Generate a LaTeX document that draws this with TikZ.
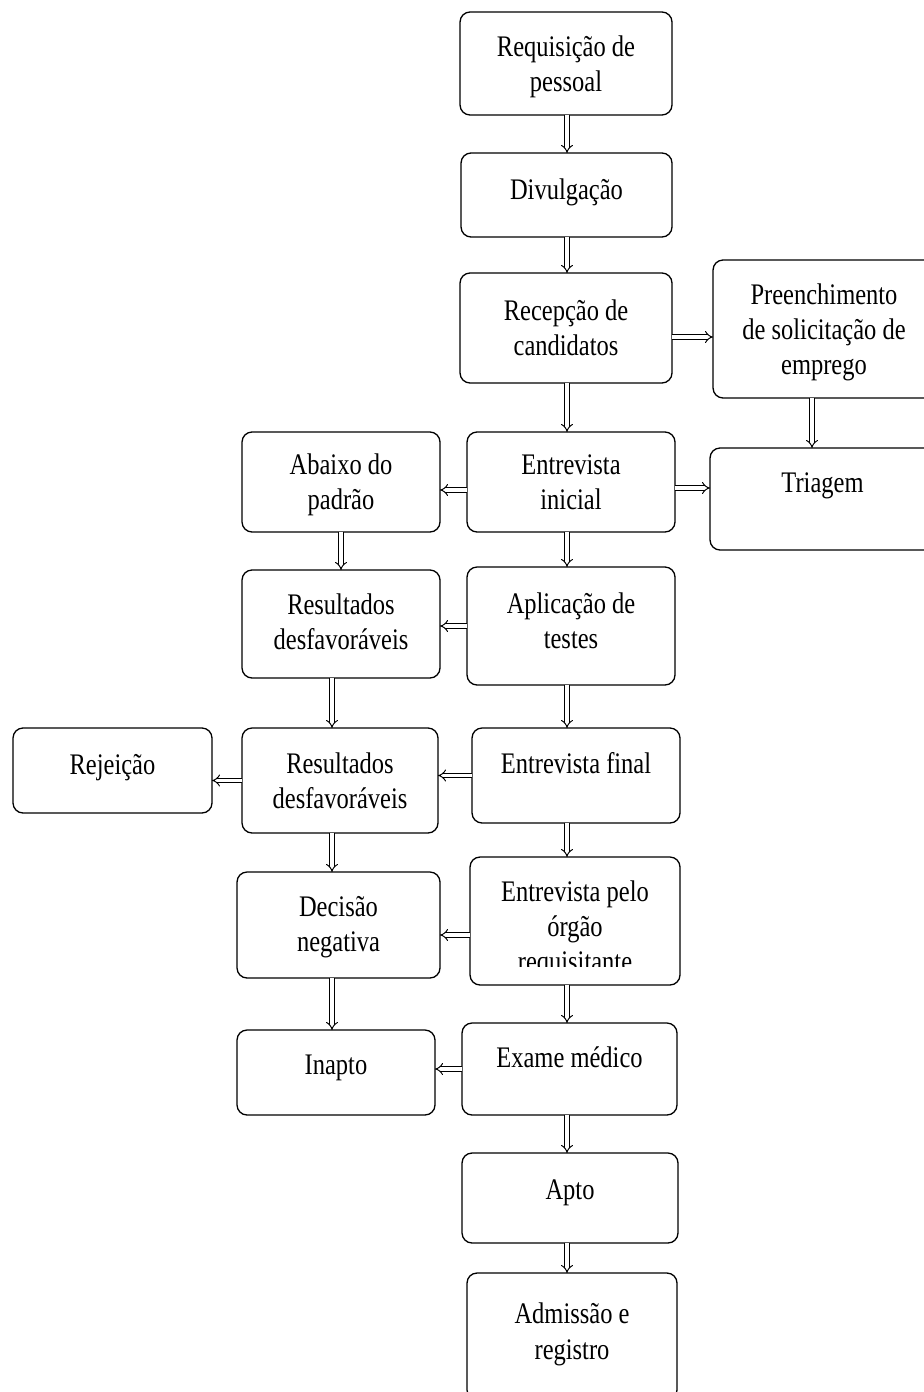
\documentclass[tikz,border=0pt]{standalone}
\usepackage{fontspec}
\setmainfont[FakeStretch=0.82]{Liberation Serif}
\usetikzlibrary{arrows.meta}

\tikzset{
  caixa/.style={draw, rounded corners=0.2cm, align=center, inner sep=0pt, outer sep=0pt,
    line width=0.75pt, text depth=0pt, font=\fontsize{17}{20}\selectfont},
  seta/.style={->, double, double distance=1.8pt, line width=0.55pt},
}

\begin{document}
\begin{tikzpicture}[>={Implies}, x=0.02cm, y=-0.02cm]
        \useasboundingbox (0,0) rectangle (923,1392);

        % coluna principal
        \node[caixa, minimum width=4.24cm, minimum height=2.06cm, text depth=-2.3pt] (requisicao) at (566,63.5) {Requisição de\\pessoal};
        \node[caixa, minimum width=4.22cm, minimum height=1.68cm, text depth=6.2pt] (divulgacao) at (566.5,195) {Divulgação};
        \node[caixa, minimum width=4.24cm, minimum height=2.2cm, text depth=-0.6pt] (recepcao) at (566,328) {Recepção de\\candidatos};
        \node[caixa, minimum width=4.16cm, minimum height=2cm, text depth=-3.4pt] (entrevista) at (571,482) {Entrevista\\inicial};
        \node[caixa, minimum width=4.16cm, minimum height=2.36cm, text depth=6.2pt] (testes) at (571,626) {Aplicação de\\testes};
        \node[caixa, minimum width=4.16cm, minimum height=1.9cm, text depth=14.8pt] (final) at (576,775.5) {Entrevista final};
        \begin{scope}
            \clip (0,0) rectangle (923,966) (0,983) rectangle (923,1392)
                  (0,960) rectangle (490,990) (660,960) rectangle (923,990);
            \node[caixa, minimum width=4.2cm, minimum height=2.56cm] (orgao) at (575,921) {\rule{0pt}{17.5pt}Entrevista pelo\\órgão\\requisitante};
        \end{scope}
        \node[caixa, minimum width=4.3cm, minimum height=1.84cm, text depth=13pt] (exame) at (569.5,1069) {Exame médico};
        \node[caixa, minimum width=4.32cm, minimum height=1.8cm, text depth=9.7pt] (apto) at (570,1198) {Apto};
        \node[caixa, minimum width=4.2cm, minimum height=2.54cm, text depth=6.2pt] (admissao) at (572,1336.5) {Admissão e\\registro};

        % lado direito
        \node[caixa, minimum width=4.44cm, minimum height=2.76cm, text depth=-2.8pt] (preenchimento) at (824,329) {Preenchimento\\de solicitação de\\emprego};
        \node[caixa, minimum width=4.5cm, minimum height=2.04cm, text depth=18.7pt] (triagem) at (822.5,499) {Triagem};

        % lado esquerdo
        \node[caixa, minimum width=3.96cm, minimum height=2cm, text depth=-2.3pt] (abaixo) at (341,482) {Abaixo do\\padrão};
        \node[caixa, minimum width=3.96cm, minimum height=2.16cm, text depth=2.8pt] (desfav1) at (341,624) {Resultados\\desfavoráveis};
        \node[caixa, minimum width=3.92cm, minimum height=2.1cm, text depth=-2.3pt] (desfav2) at (340,780.5) {Resultados\\desfavoráveis};
        \node[caixa, minimum width=3.98cm, minimum height=1.7cm, text depth=6.8pt] (rejeicao) at (112.5,770.5) {Rejeição};
        \node[caixa, minimum width=4.06cm, minimum height=2.12cm, text depth=1.2pt] (decisao) at (338.5,925) {Decisão\\negativa};
        \node[caixa, minimum width=3.96cm, minimum height=1.7cm, text depth=9.1pt] (inapto) at (336,1072.5) {Inapto};

        \coordinate (eixo) at (567,0);
        \coordinate (eixoesq) at (332,0);
        \coordinate (eixodir) at (812,0);

        \draw[seta] (requisicao.south -| eixo) -- (divulgacao.north -| eixo);
        \draw[seta] (divulgacao.south -| eixo) -- (recepcao.north -| eixo);
        \draw[seta] (recepcao.south -| eixo) -- (entrevista.north -| eixo);
        \draw[seta] (entrevista.south -| eixo) -- (testes.north -| eixo);
        \draw[seta] (testes.south -| eixo) -- (final.north -| eixo);
        \draw[seta] (final.south -| eixo) -- (orgao.north -| eixo);
        \draw[seta] (orgao.south -| eixo) -- (exame.north -| eixo);
        \draw[seta] (exame.south -| eixo) -- (apto.north -| eixo);
        \draw[seta] (apto.south -| eixo) -- (admissao.north -| eixo);

        \draw[seta] (preenchimento.south -| eixodir) -- (triagem.north -| eixodir);
        \draw[seta] ([yshift=-0.18cm]recepcao.east) -- ([yshift=-0.18cm]recepcao.east -| preenchimento.west);
        \draw[seta] ([yshift=-0.12cm]entrevista.east) -- ([yshift=-0.12cm]entrevista.east -| triagem.west);

        \draw[seta] ([yshift=-0.16cm]entrevista.west) -- ([yshift=-0.16cm]entrevista.west -| abaixo.east);
        \draw[seta] (testes.west) -- (testes.west -| desfav1.east);
        \draw[seta] (final.west) -- (final.west -| desfav2.east);
        \draw[seta] (desfav2.west) -- (desfav2.west -| rejeicao.east);
        \draw[seta] ([yshift=-0.28cm]orgao.west) -- ([yshift=-0.28cm]orgao.west -| decisao.east);
        \draw[seta] (exame.west) -- (exame.west -| inapto.east);

        \draw[seta] (abaixo.south) -- (abaixo.south |- desfav1.north);
        \draw[seta] (desfav1.south -| eixoesq) -- (desfav2.north -| eixoesq);
        \draw[seta] (desfav2.south -| eixoesq) -- (decisao.north -| eixoesq);
        \draw[seta] (decisao.south -| eixoesq) -- (inapto.north -| eixoesq);

        \end{tikzpicture}
\end{document}
